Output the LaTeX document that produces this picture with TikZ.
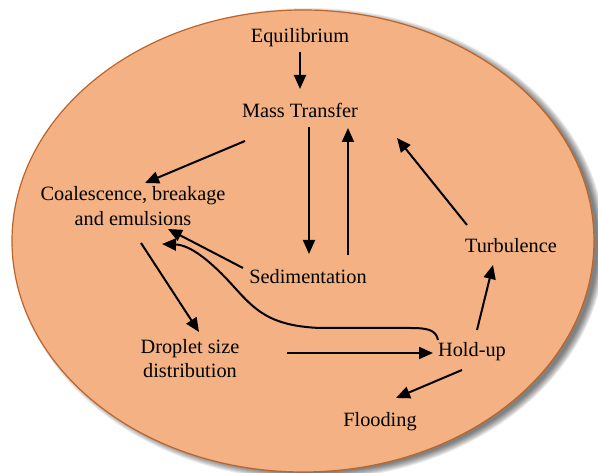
\documentclass[tikz,border=0pt]{standalone}
\usepackage{fontspec}
\setmainfont{Liberation Serif}
\usetikzlibrary{arrows.meta,calc}
\definecolor{salmon}{RGB}{243,177,132}
\definecolor{rim}{RGB}{190,100,40}
\tikzset{
  lbl/.style={inner sep=0pt, font=\fontsize{20.3}{25}\selectfont, align=center},
  arr/.style={line width=2pt, -{Triangle[length=14pt,width=12pt]}},
}
\begin{document}
\begin{tikzpicture}[x=1pt,y=1pt]
\useasboundingbox (0,0) rectangle (598,473);
\fill[white] (0,0) rectangle (598,473);
\foreach \r in {8,7,6,5,4,3,2,1}{
  \fill[black, opacity=0.08] (309,229) ellipse [x radius={291pt+\r pt-3pt}, y radius={231pt+\r pt-3pt}];
}
\path[fill=salmon, draw=rim, line width=1.2pt]
  (303,232) ellipse [x radius=291pt, y radius=231pt];
\node[lbl] (eq) at (300,435) {Equilibrium};
\node[lbl] (mt) at (300,363) {Mass Transfer};
\node[lbl] (coal) at (133,267) {Coalescence, breakage\\and emulsions};
\node[lbl] (sed) at (308,196) {Sedimentation};
\node[lbl] (turb) at (511,227) {Turbulence};
\node[lbl, font=\fontsize{20.3}{24}\selectfont] (drop) at (190,114) {Droplet size\\distribution};
\node[lbl] (hold) at (472,121) {Hold-up};
\node[lbl] (flood) at (380,51) {Flooding};
\draw[arr] ($(eq)+(0,-14)$) -- ($(mt)+(0,21)$);
\draw[arr] ($(mt)+(-55,-31)$) -- ($(coal)+(12,23)$);
\draw[arr] ($(mt)+(9,-17)$) -- ($(sed)+(1,23)$);
\draw[arr] ($(sed)+(40,22)$) -- ($(mt)+(48,-18)$);
\draw[arr] ($(turb)+(-44,21)$) -- ($(mt)+(97,-28)$);
\draw[arr] ($(sed)+(-65,9)$) -- ($(coal)+(35,-23)$);
\draw[arr] ($(hold)+(-34,12)$) .. controls (436,143) and (428,145) .. (410,145)
  -- (320,145) .. controls (270,147) and (255,163) .. (235,185)
  .. controls (210,213) and (190,228) .. ($(coal)+(29,-38)$);
\draw[arr] ($(coal)+(8,-37)$) -- ($(drop)+(9,27)$);
\draw[arr] ($(drop)+(97,6)$) -- ($(hold)+(-39,-1)$);
\draw[arr] ($(hold)+(5,22)$) -- ($(turb)+(-18,-19)$);
\draw[arr] ($(hold)+(-10,-18)$) -- ($(flood)+(16,24)$);
\end{tikzpicture}
\end{document}
